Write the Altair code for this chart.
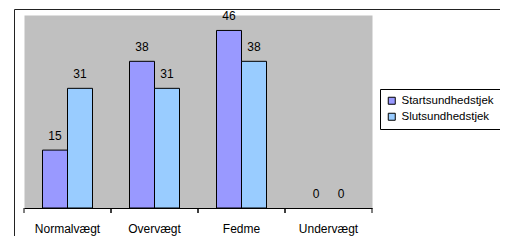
import altair as alt
import pandas as pd

categories = ["Normalvægt", "Overvægt", "Fedme", "Undervægt"]
series = ["Startsundhedstjek", "Slutsundhedstjek"]
start_values = [15, 38, 46, 0]
slut_values = [31, 31, 38, 0]
colors = ["#9999FF", "#99CCFF"]

rows = []
for i, c in enumerate(categories):
    rows.append({"cat": c, "serie": series[0], "v": start_values[i]})
    rows.append({"cat": c, "serie": series[1], "v": slut_values[i]})
df = pd.DataFrame(rows)
cat_df = pd.DataFrame({"cat": categories})

FONT = "Liberation Sans"

xscale = alt.Scale(domain=categories, paddingInner=0, paddingOuter=0)
xoff = alt.XOffset("serie:N", sort=series, scale=alt.Scale(domain=series, paddingInner=0, paddingOuter=0.74))
yscale = alt.Scale(domain=[0, 50], nice=False)

base = alt.Chart(df)

bars = base.mark_bar(stroke="black", strokeWidth=1).encode(
    x=alt.X("cat:N", sort=categories, scale=xscale, title=None,
            axis=alt.Axis(labelAngle=0, ticks=False, labelPadding=15, labelFont=FONT,
                          labelFontSize=12, labelColor="black", domainColor="black",
                          domainWidth=1, grid=False)),
    xOffset=xoff,
    y=alt.Y("v:Q", scale=yscale, axis=None),
    strokeOpacity=alt.condition("datum.v > 0", alt.value(1), alt.value(0)),
    color=alt.Color("serie:N", sort=series, scale=alt.Scale(domain=series, range=colors),
                    legend=alt.Legend(title=None, orient="none", legendX=356, legendY=74,
                                      symbolType="square", symbolSize=49,
                                      symbolStrokeColor="black", symbolStrokeWidth=1,
                                      labelFont=FONT, labelFontSize=11.5, labelColor="black",
                                      labelOffset=4, rowPadding=3, padding=6,
                                      strokeColor="black", fillColor="white")),
)

labels = base.mark_text(dy=-10, baseline="alphabetic", font=FONT, fontSize=12, color="black").encode(
    x=alt.X("cat:N", sort=categories, scale=xscale),
    xOffset=xoff,
    y=alt.Y("v:Q", scale=yscale),
    text=alt.Text("v:Q"),
)

ticks0 = alt.Chart(cat_df).mark_rule(color="black", strokeWidth=1).encode(
    x=alt.X("cat:N", sort=categories, scale=xscale, bandPosition=0),
    y=alt.value(193), y2=alt.value(198),
)
ticks1 = alt.Chart(cat_df).mark_rule(color="black", strokeWidth=1).encode(
    x=alt.X("cat:N", sort=categories, scale=xscale, bandPosition=1),
    y=alt.value(193), y2=alt.value(198),
)

frame = alt.Chart(alt.Data(values=[{"a": 1}])).mark_rect(
    fillOpacity=0, stroke="#222222", strokeWidth=1
).encode(
    x=alt.value(-9.5), x2=alt.value(490), y=alt.value(-5.5), y2=alt.value(240)
)

chart = alt.layer(frame, bars, labels, ticks0, ticks1).properties(
    width=348, height=193,
    autosize=alt.AutoSizeParams(type="none"),
    padding={"left": 16, "top": 7, "right": 128, "bottom": 28},
    background="white",
).configure_view(
    fill="#C0C0C0", stroke="transparent"
)

chart.save("out.html", embed_options={"renderer": "svg", "actions": False})
